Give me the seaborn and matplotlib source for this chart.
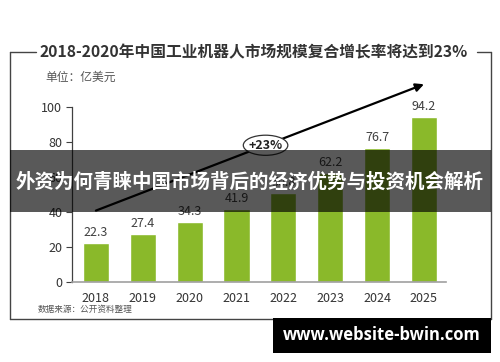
import matplotlib
matplotlib.use('Agg')
import matplotlib.pyplot as plt
import seaborn as sns
from matplotlib.patches import Rectangle, Ellipse
from matplotlib.lines import Line2D

# datos
years = ['2018', '2019', '2020', '2021', '2022', '2023', '2024', '2025']
values = [22.3, 27.4, 34.3, 41.9, 50.8, 62.2, 76.7, 94.2]
yticks = [0, 20, 40, 60, 80, 100]

title = '2018-2020年中国工业机器人市场规模复合增长率将达到23%'
unit = '单位：亿美元'
source = '数据来源：公开资料整理'
growth = '+23%'
banner = '外资为何青睐中国市场背后的经济优势与投资机会解析'
footer = 'www.website-bwin.com'

sns.set_style('white')
plt.rcParams['font.family'] = ['Noto Sans CJK SC', 'DejaVu Sans']

W, H = 500, 362
fig = plt.figure(figsize=(5, 3.62), dpi=100)
ax = fig.add_axes([72 / W, 1 - 282 / H, (446 - 72) / W, (282 - 107) / H])

green = '#8ab92a'
sns.barplot(x=years, y=values, color=green, saturation=1, width=0.555, ax=ax)
ax.bar_label(ax.containers[0], fmt='%.1f', padding=3, fontsize=9, color='#404040')

ax.set_xlim(-0.51, 7.47)
ax.set_ylim(0, 100)
ax.set_yticks(yticks)
ax.set_xlabel('')
ax.set_ylabel('')
ax.tick_params(axis='y', left=True, length=4, width=0.8, color='#404040',
               labelsize=9, labelcolor='#333333', pad=3)
ax.tick_params(axis='x', bottom=False, labelsize=9, labelcolor='#333333', pad=4)
for lab in ax.get_xticklabels():
    lab.set_fontweight('medium')
for s in ['top', 'right']:
    ax.spines[s].set_visible(False)
ax.spines['left'].set_color('#404040')
ax.spines['left'].set_linewidth(0.9)
ax.spines['bottom'].set_color('#a0a0a0')
ax.spines['bottom'].set_linewidth(1.2)

# flecha de crecimiento
x0, y0, x1, y1 = 0.0, 40.8, 7.0, 113.0
ax.annotate('', xy=(x1, y1), xytext=(x0, y0), annotation_clip=False,
            arrowprops=dict(arrowstyle='-|>', color='black', lw=1.6,
                            mutation_scale=12, shrinkA=0, shrinkB=0))
ex = 3.62
ey = y0 + (y1 - y0) * (ex - x0) / (x1 - x0)
ell = Ellipse((ex, ey), 0.95, 11.5, facecolor='white', edgecolor='#333333',
              lw=0.9, zorder=5, clip_on=False)
ax.add_patch(ell)
ax.text(ex, ey, growth, ha='center', va='center', fontsize=9,
        fontweight='bold', color='#222222', zorder=6)

# marco
def fx(px):
    return px / W

def fy(py):
    return 1 - py / H

frame_color = '#444444'
for xs, ys in [([10, 10], [52, 319]), ([10, 491], [319, 319]),
               ([491, 491], [52, 319]), ([10, 36], [52, 52]),
               ([477, 491], [52, 52])]:
    fig.add_artist(Line2D([fx(v) for v in xs], [fy(v) for v in ys],
                          color=frame_color, lw=1.0))

fig.text(fx(254), fy(52), title, ha='center', va='center', fontsize=11.3,
         fontweight='bold', color='#333333')
fig.text(fx(45), fy(77), unit, ha='left', va='center', fontsize=8.5,
         color='#555555')
fig.text(fx(38), fy(309), source, ha='left', va='center', fontsize=6.2,
         color='#555555')

# banda superpuesta
fig.add_artist(Rectangle((fx(10), fy(212)), fx(491) - fx(10), fy(150) - fy(212),
                         facecolor='black', alpha=0.65, edgecolor='none',
                         zorder=10))
fig.text(fx(250), fy(182), banner, ha='center', va='center', fontsize=14,
         fontweight='bold', color='white', zorder=11)

# pie
fig.add_artist(Rectangle((fx(273), fy(353)), fx(491) - fx(273), fy(318) - fy(353),
                         facecolor='black', edgecolor='none', zorder=10))
fig.text(fx(382), fy(335.5), footer, ha='center', va='center', fontsize=12,
         fontweight='bold', color='white', family=['Open Sans', 'DejaVu Sans'],
         zorder=11)

fig.savefig('out.png', dpi=100)
